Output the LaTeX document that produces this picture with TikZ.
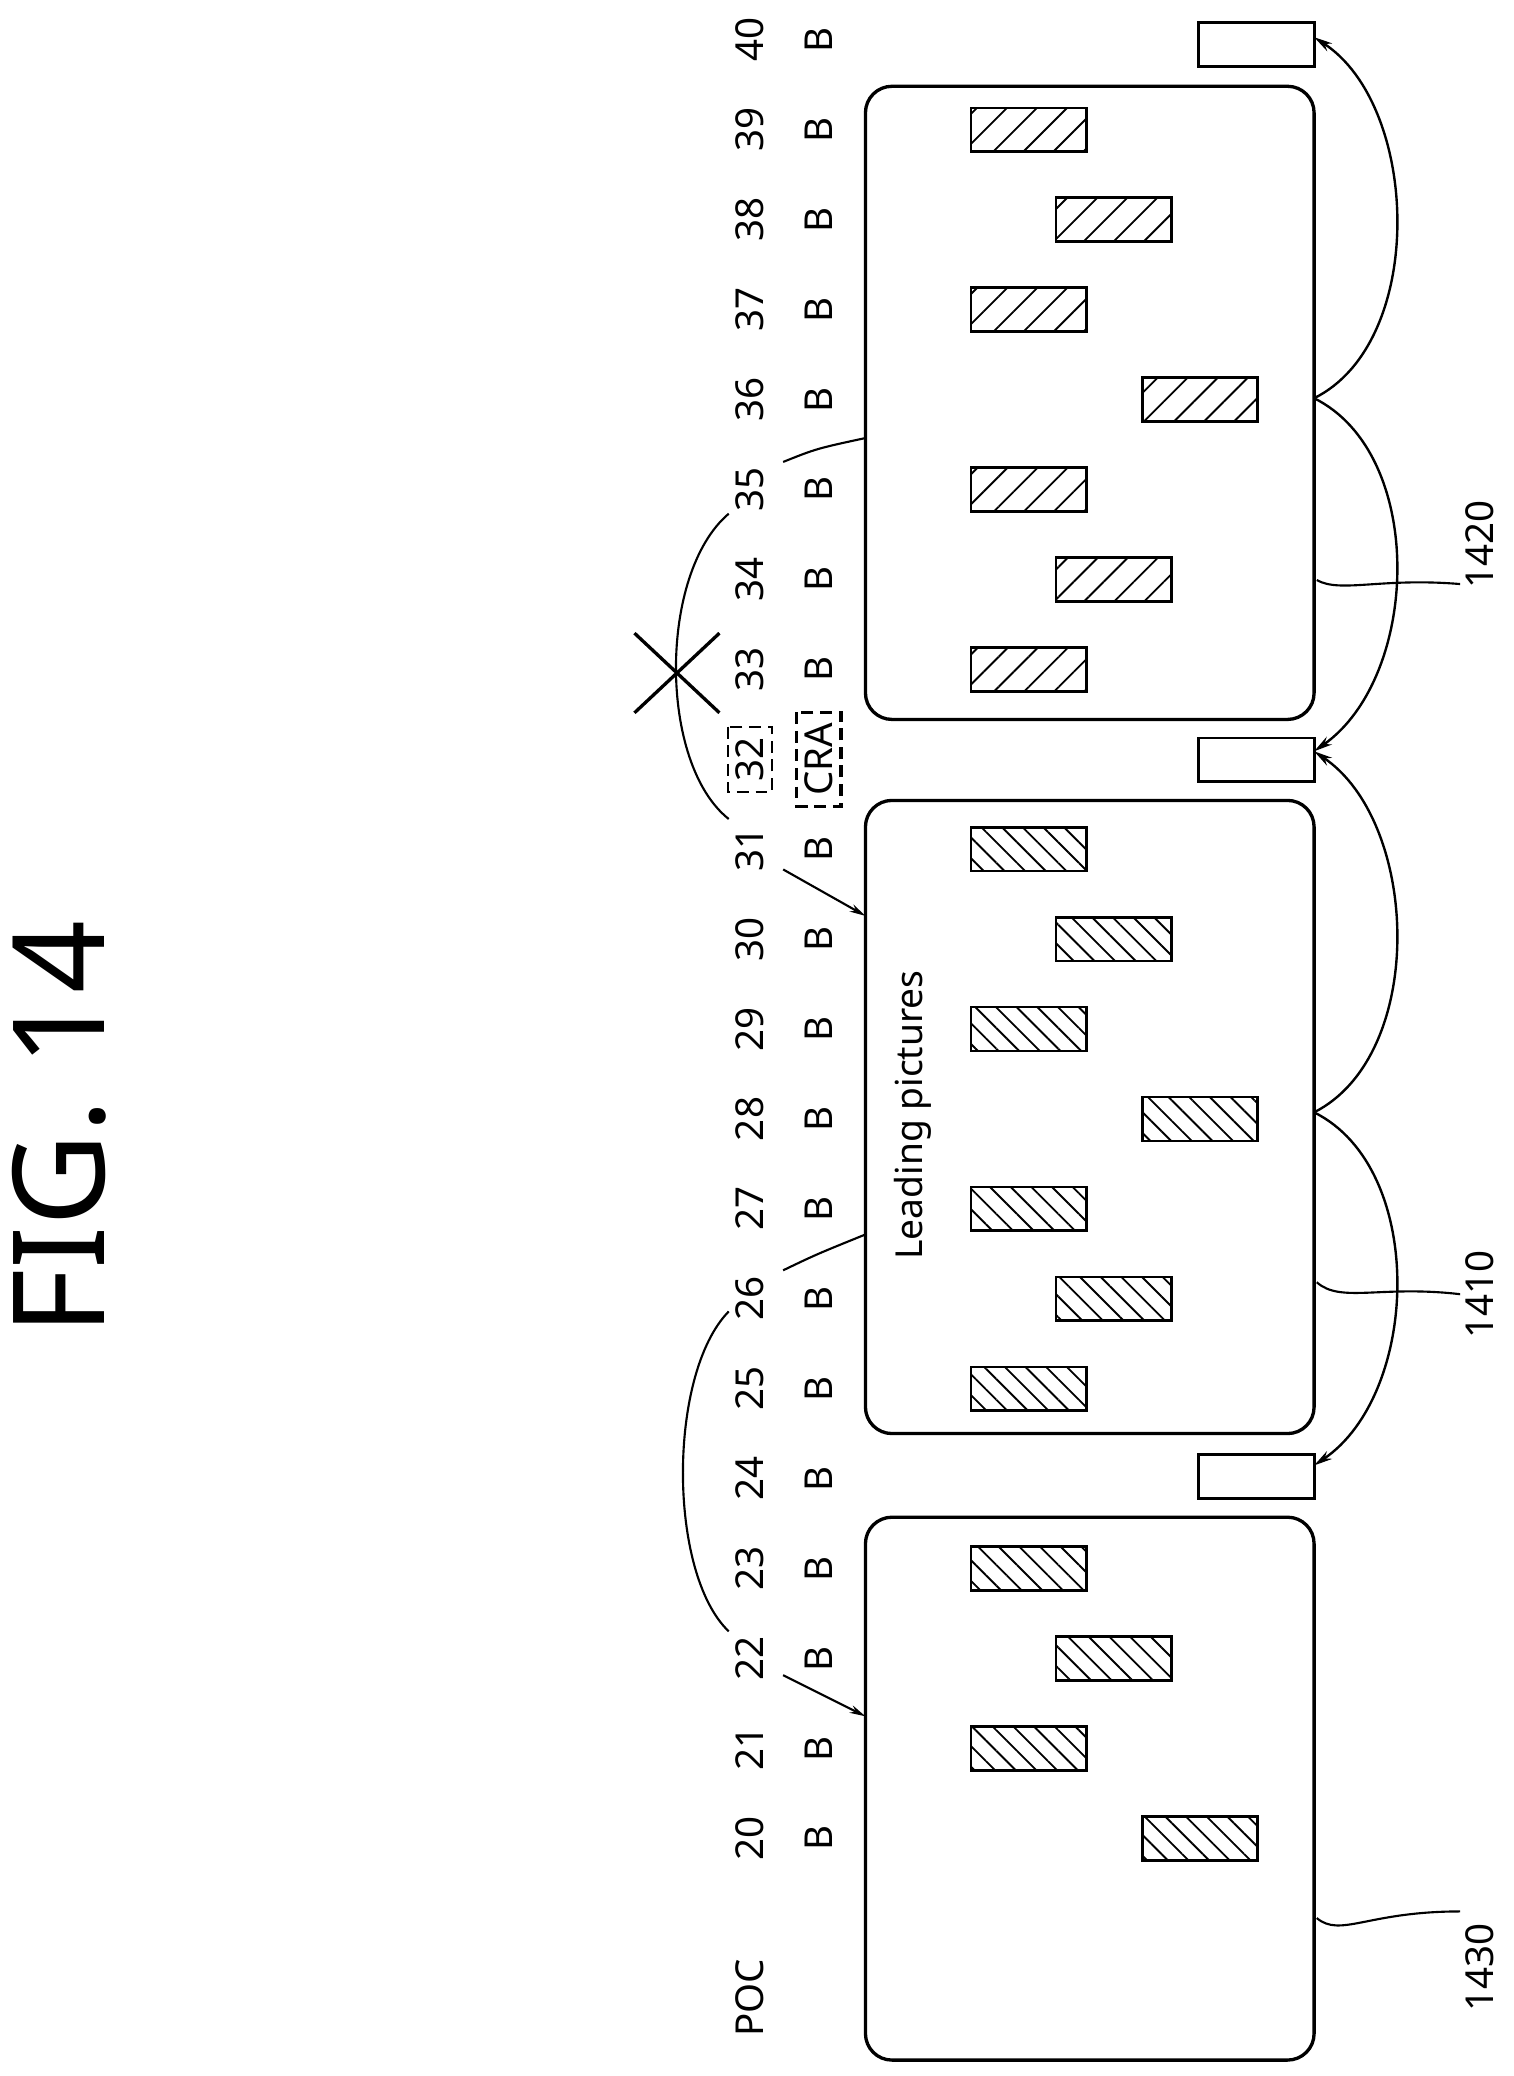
\documentclass[tikz,border=0pt]{standalone}
\usepackage{fontspec}
\setmainfont{Noto Sans}
\usetikzlibrary{calc}
\usetikzlibrary{positioning}
\usetikzlibrary{arrows.meta}
\usetikzlibrary{patterns.meta}
\begin{document}
\begin{tikzpicture}[x=1pt, y=-1pt,
    gop/.style={draw, line width=2.5pt, rounded corners=20pt, minimum width=338pt, inner sep=0},
    tail/.style={draw, line width=2.2pt, minimum width=87pt, minimum height=33pt, inner sep=0},
    pic/.style={draw, line width=2pt, minimum width=87pt, minimum height=33pt, inner sep=0},
    picA/.style={pic, pattern={Lines[angle=-45, distance=11pt, line width=1.4pt]}},
    picB/.style={pic, pattern={Lines[angle=45, distance=16pt, line width=1.4pt]}},
    num/.style={rotate=90, font=\fontsize{29}{30}\selectfont},
    dbox/.style={draw, line width=2pt, dash pattern=on 9pt off 5pt, inner xsep=8pt, inner ysep=9pt},
    ref/.style={line width=1.6pt},
    pred/.style={line width=1.8pt, -{Stealth[length=14pt, width=7pt]}}]
    \useasboundingbox (0,0) rectangle (1140,1564);
    % title
    \node[rotate=90, font=\fontsize{96}{100}\selectfont] (title) at (45,850) {FIG. 14};
    % POC row and slice types
    \node[num] (poc) at (565,1505) {POC};
    \foreach \n in {20,...,40} {
        \pgfmathsetmacro{\yy}{1385-67.75*(\n-20)}
        \ifnum\n=32
            \node[num, dbox, line width=1.6pt, inner ysep=6pt] (n\n) at (565,\yy) {\n};
            \node[num, dbox, line width=2.4pt, inner ysep=6pt] (t\n) at (617,\yy) {CRA};
        \else
            \node[num] (n\n) at (565,\yy) {\n};
            \node[num] (t\n) at (617,\yy) {B};
        \fi
    }
    % groups of pictures
    \node[gop, minimum height=409pt] (g1430) at (821,1347.5) {};
    \node[gop, minimum height=477pt] (g1410) at (821,841.5) {};
    \node[gop, minimum height=477pt] (g1420) at (821,303.5) {};
    \node[rotate=90, font=\fontsize{28}{29}\selectfont] (lead) at (688,840) {Leading pictures};
    % trailing pictures
    \node[tail] (r24) at (946.5,1112.5) {};
    \node[tail] (r32) at (946.5,572.5) {};
    \node[tail] (r40) at (946.5,33.5) {};
    % hatched pictures: POC / column
    \foreach \n/\c in {20/904,21/775,22/839,23/775,25/775,26/839,27/775,28/904,29/775,30/839,31/775} {
        \pgfmathsetmacro{\yy}{1385-67.75*(\n-20)}
        \node[picA] (p\n) at (\c,\yy) {};
    }
    \foreach \n/\c in {33/775,34/839,35/775,36/904,37/775,38/839,39/775} {
        \pgfmathsetmacro{\yy}{1385-67.75*(\n-20)}
        \node[picB] (p\n) at (\c,\yy) {};
    }
    % reference points on the boxes
    \coordinate (a28) at (990,838);
    \coordinate (a36) at (990,300);
    \coordinate (e24) at (990,1104);
    \coordinate (e32) at (990,566);
    \coordinate (e40) at (990,28);
    \draw[pred] (a28) .. controls (1075,880) and (1070,1050) .. (e24);
    \draw[pred] (a28) .. controls (1075,795) and (1070,620) .. (e32);
    \draw[pred] (a36) .. controls (1075,342) and (1070,510) .. (e32);
    \draw[pred] (a36) .. controls (1075,258) and (1070,80) .. (e40);
    % leading picture references
    \coordinate (s22) at (590,1262);
    \coordinate (s26) at (590,957);
    \coordinate (s31) at (590,655);
    \coordinate (s35) at (590,348);
    \coordinate (u22) at (549,1229);
    \coordinate (u26) at (549,988);
    \coordinate (u31) at (549,617);
    \coordinate (u35) at (549,387);
    \draw[ref, -{Stealth[length=12pt, width=6pt]}] (s22) -- (652,1293);
    \draw[ref] (s26) .. controls (615,945) .. (652,930);
    \draw[ref, -{Stealth[length=12pt, width=6pt]}] (s31) -- (652,690);
    \draw[ref] (s35) .. controls (615,338) .. (652,330);
    \draw[ref] (u22) .. controls (503,1185) and (503,1035) .. (u26);
    \draw[ref] (u31) .. controls (496,575) and (496,432) .. (u35);
    % broken reference
    \coordinate (xc) at (510,507);
    \draw[line width=2.5pt] ($(xc)+(-32,-30)$) -- ($(xc)+(32,30)$)
                            ($(xc)+(-32,30)$) -- ($(xc)+(32,-30)$);
    % reference numerals
    \node[num] (l1430) at (1115,1482) {1430};
    \node[num] (l1410) at (1115,975) {1410};
    \node[num] (l1420) at (1115,410) {1420};
    \draw[ref] (992,1445) .. controls (1010,1460) and (1030,1440) .. (1100,1440);
    \draw[ref] (992,966) .. controls (1010,982) and (1040,968) .. (1100,975);
    \draw[ref] (992,437) .. controls (1010,447) and (1040,435) .. (1100,440);
\end{tikzpicture}
\end{document}
